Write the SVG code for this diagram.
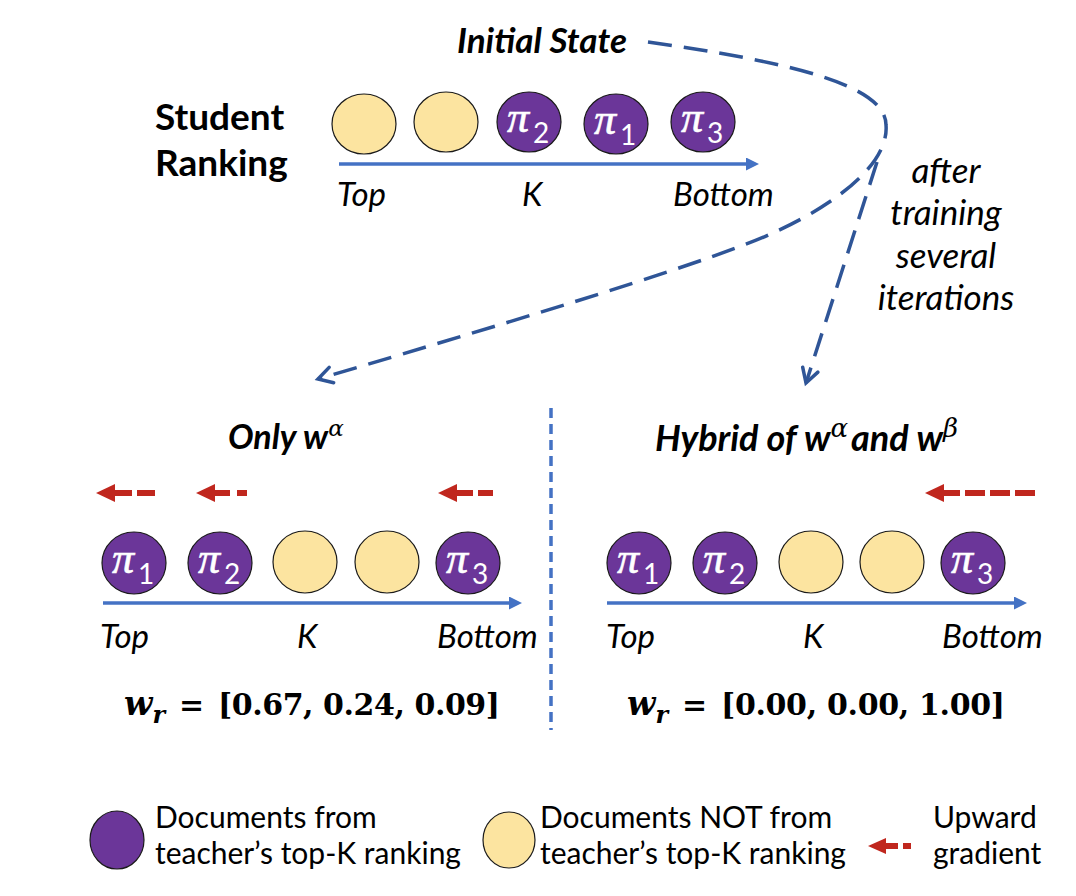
<svg xmlns="http://www.w3.org/2000/svg" width="1076" height="896" viewBox="0 0 1076 896">
<defs>
<style>
.dp{fill:#6B3699;stroke:#1a1a1a;stroke-width:1.2}
.dy{fill:#FCE4A0;stroke:#1a1a1a;stroke-width:1.2}
.pi{font-family:"Liberation Serif",serif;font-style:italic;font-size:44px;fill:#fff;stroke:#fff;stroke-width:0.6}
.sb{font-family:Lato,sans-serif;font-size:28px;fill:#fff}
.axis{stroke:#4472C4;stroke-width:3.5;marker-end:url(#ah)}
.lbl{font-family:Lato,sans-serif;font-style:italic;font-size:33px;fill:#000}
.aft{font-family:Lato,sans-serif;font-style:italic;font-size:35px;fill:#000}
.ttl{font-family:Lato,sans-serif;font-style:italic;font-weight:bold;font-size:34px;fill:#000}
.gk{font-family:"DejaVu Serif",serif;font-style:italic;font-weight:normal;font-size:23px}
.flow{fill:none;stroke:#2F5597;stroke-width:3.5;stroke-dasharray:24 12;marker-end:url(#chev)}
.gh{fill:#C0271E}
.gs{stroke:#C0271E;stroke-width:6;fill:none}
.fm{font-family:"DejaVu Serif",serif;font-weight:bold;font-size:30px;fill:#000}
.fw{font-style:italic;font-size:33px}
.fr{font-style:italic;font-size:24px}
.leg{font-family:Lato,sans-serif;font-size:30px;fill:#000}
.div{stroke:#4472C4;stroke-width:3.5;stroke-dasharray:10 6}
</style>
<marker id="ah" markerUnits="userSpaceOnUse" markerWidth="14" markerHeight="13" refX="1" refY="6.5" orient="auto">
<path d="M0,0 L13,6.5 L0,13 Z" fill="#4472C4"/>
</marker>
<marker id="chev" markerUnits="userSpaceOnUse" markerWidth="20" markerHeight="20" refX="16" refY="10" orient="auto" overflow="visible">
<path d="M2,2 L16,10 L2,18" fill="none" stroke="#2F5597" stroke-width="3.5" stroke-linecap="round" stroke-dasharray="none"/>
</marker>
</defs>
<rect width="1076" height="896" fill="#fff"/>

<g id="connectors">
<path class="flow" d="M648,42 C790,62 886,85 886,125 C889,160 845,200 773,233 C701,266 450,340 318,379"/>
<path class="flow" d="M877,162 L806,383"/>
<line class="div" x1="551" y1="408" x2="551" y2="730"/>
</g>

<g id="initial-state">
<text class="ttl" x="457" y="53" style="font-size:35px">Initial State</text>
<text x="155" y="130" font-family="Lato,sans-serif" font-weight="bold" font-size="37">Student</text>
<text x="155" y="176" font-family="Lato,sans-serif" font-weight="bold" font-size="37">Ranking</text>
<ellipse class="dy" cx="364" cy="124" rx="32" ry="30"/>
<ellipse class="dy" cx="446" cy="122" rx="32" ry="30"/>
<ellipse class="dp" cx="529" cy="122" rx="32" ry="30"/>
<text class="pi" x="507" y="132">π</text><text class="sb" x="533" y="143">2</text>
<ellipse class="dp" cx="616" cy="124" rx="32" ry="30"/>
<text class="pi" x="594" y="134">π</text><text class="sb" x="620" y="145">1</text>
<ellipse class="dp" cx="703" cy="122" rx="32" ry="30"/>
<text class="pi" x="681" y="132">π</text><text class="sb" x="707" y="143">3</text>
<line class="axis" x1="339" y1="164" x2="747" y2="164"/>
<text class="lbl" x="337" y="206">Top</text>
<text class="lbl" x="522" y="206">K</text>
<text class="lbl" x="673" y="206">Bottom</text>
</g>

<g id="after-training">
<text class="aft" text-anchor="middle" x="946" y="183">after</text>
<text class="aft" text-anchor="middle" x="946" y="225">training</text>
<text class="aft" text-anchor="middle" x="946" y="268">several</text>
<text class="aft" text-anchor="middle" x="946" y="310">iterations</text>
</g>

<g id="only-alpha">
<text class="ttl" x="228" y="449">Only w<tspan class="gk" dy="-13">α</tspan></text>
<path class="gh" d="M96,493 L115,484 L115,502 Z"/><path class="gs" d="M114,493 H132 M137,493 H155"/>
<path class="gh" d="M196,493 L215,484 L215,502 Z"/><path class="gs" d="M214,493 H230 M237,493 H247"/>
<path class="gh" d="M438,493 L457,484 L457,502 Z"/><path class="gs" d="M456,493 H473 M478,493 H493"/>
<ellipse class="dp" cx="134" cy="563" rx="32" ry="31"/>
<text class="pi" x="112" y="573">π</text><text class="sb" x="138" y="584">1</text>
<ellipse class="dp" cx="220" cy="563" rx="32" ry="31"/>
<text class="pi" x="198" y="573">π</text><text class="sb" x="224" y="584">2</text>
<ellipse class="dy" cx="305" cy="562" rx="32" ry="31"/>
<ellipse class="dy" cx="387" cy="562" rx="32" ry="31"/>
<ellipse class="dp" cx="468" cy="563" rx="32" ry="31"/>
<text class="pi" x="446" y="573">π</text><text class="sb" x="472" y="584">3</text>
<line class="axis" x1="103" y1="603" x2="510" y2="603"/>
<text class="lbl" x="100" y="648">Top</text>
<text class="lbl" x="297" y="648">K</text>
<text class="lbl" x="437" y="648">Bottom</text>
<text class="fm" x="124" y="715"><tspan class="fw">w</tspan><tspan class="fr" dy="8">r</tspan></text>
<text class="fm" x="179" y="715">=</text>
<text class="fm" x="218" y="715" textLength="282" lengthAdjust="spacing">[0.67, 0.24, 0.09]</text>
</g>

<g id="hybrid">
<text class="ttl" x="655" y="451" style="font-size:36px">Hybrid of w<tspan class="gk" style="font-size:26px" dy="-14">α</tspan><tspan dy="14" dx="3">and w</tspan><tspan class="gk" style="font-size:26px" dy="-14">β</tspan></text>
<path class="gh" d="M925,493 L944,484 L944,502 Z"/><path class="gs" d="M943,493 H960 M965,493 H985 M990,493 H1010 M1015,493 H1035"/>
<ellipse class="dp" cx="639" cy="563" rx="32" ry="31"/>
<text class="pi" x="617" y="573">π</text><text class="sb" x="643" y="584">1</text>
<ellipse class="dp" cx="725" cy="563" rx="32" ry="31"/>
<text class="pi" x="703" y="573">π</text><text class="sb" x="729" y="584">2</text>
<ellipse class="dy" cx="811" cy="562" rx="32" ry="31"/>
<ellipse class="dy" cx="892" cy="562" rx="32" ry="31"/>
<ellipse class="dp" cx="973" cy="563" rx="32" ry="31"/>
<text class="pi" x="951" y="573">π</text><text class="sb" x="977" y="584">3</text>
<line class="axis" x1="607" y1="603" x2="1015" y2="603"/>
<text class="lbl" x="606" y="648">Top</text>
<text class="lbl" x="803" y="648">K</text>
<text class="lbl" x="942" y="648">Bottom</text>
<text class="fm" x="627" y="715"><tspan class="fw">w</tspan><tspan class="fr" dy="8">r</tspan></text>
<text class="fm" x="682" y="715">=</text>
<text class="fm" x="721" y="715" textLength="284" lengthAdjust="spacing">[0.00, 0.00, 1.00]</text>
</g>

<g id="legend">
<ellipse class="dp" cx="117" cy="840" rx="27" ry="29"/>
<text class="leg" x="155" y="828">Documents from</text>
<text class="leg" x="155" y="864">teacher’s top-K ranking</text>
<ellipse class="dy" cx="509" cy="840" rx="26" ry="28"/>
<text class="leg" x="540" y="828">Documents NOT from</text>
<text class="leg" x="540" y="864">teacher’s top-K ranking</text>
<path class="gh" d="M868,846 L886,838 L886,854 Z"/><path class="gs" d="M885,846 H898 M903,846 H911"/>
<text class="leg" x="933" y="828">Upward</text>
<text class="leg" x="933" y="864">gradient</text>
</g>
</svg>
